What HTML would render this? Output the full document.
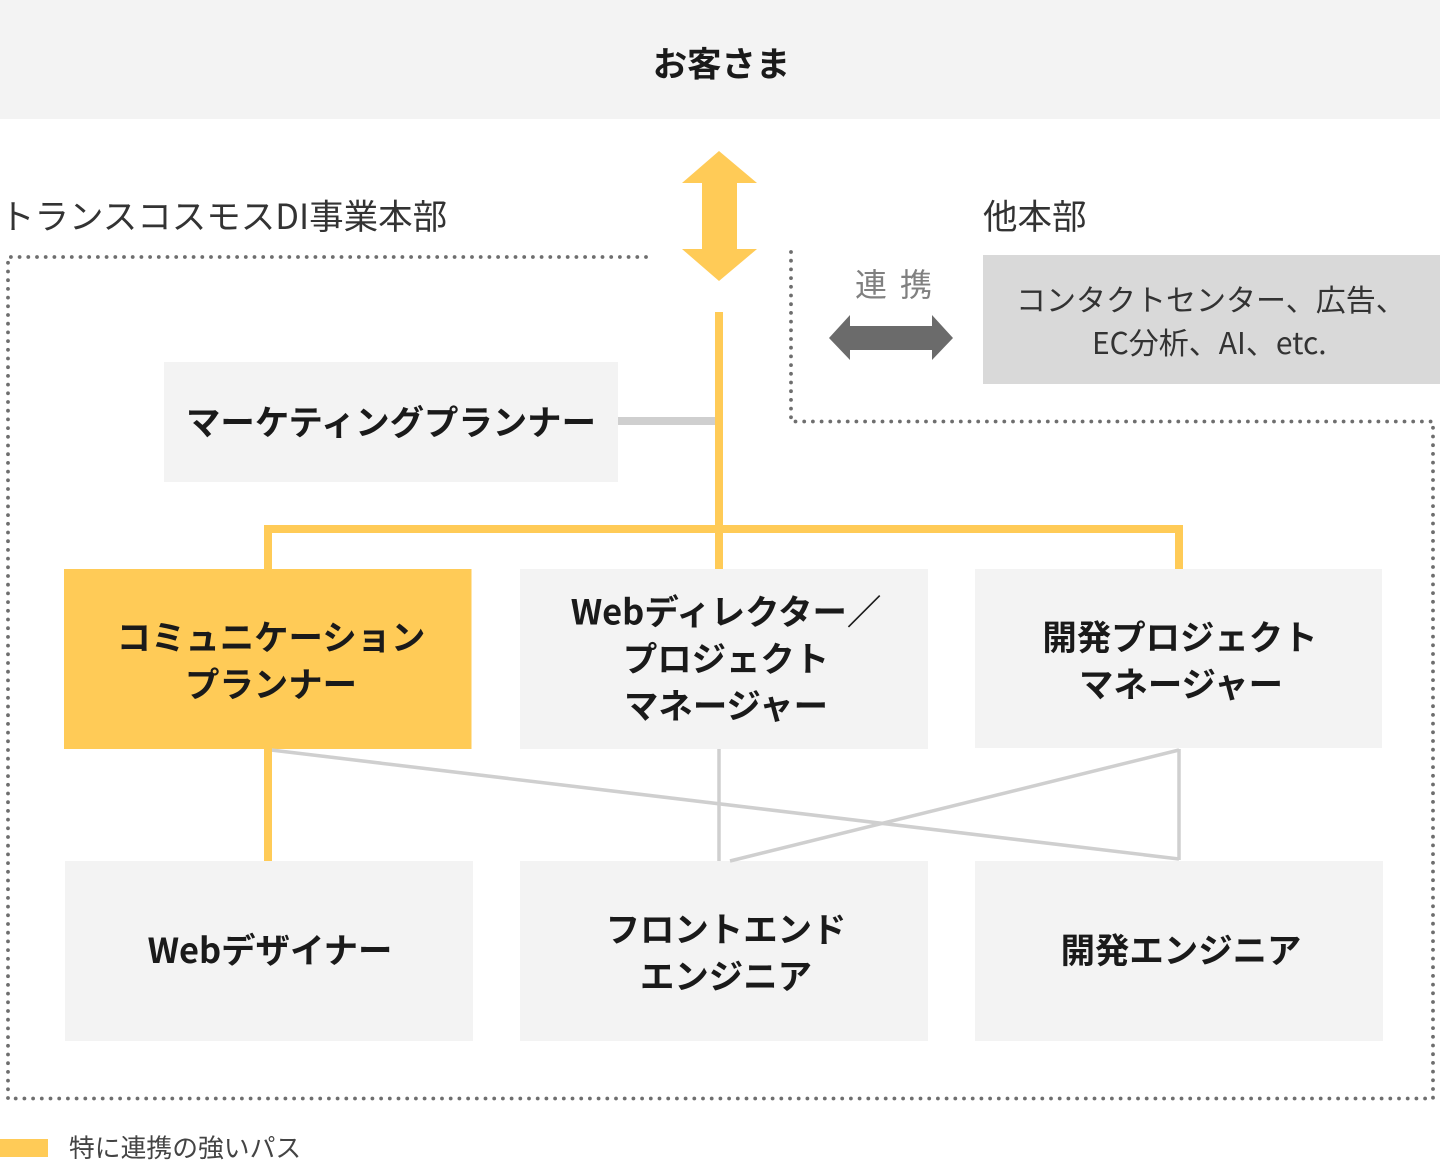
<!DOCTYPE html>
<html lang="ja">
<head>
<meta charset="utf-8">
<title>体制図</title>
<style>
html,body{margin:0;padding:0;background:#fff}
svg{display:block}
text{font-family:"Noto Sans CJK JP","Liberation Sans",sans-serif}
.b{font-weight:700;font-size:34.4px;fill:#1a1a1a;text-anchor:middle}
.r{font-weight:400;font-size:34.5px;fill:#333}
</style>
</head>
<body>
<svg width="1440" height="1160" viewBox="0 0 1440 1160" xmlns="http://www.w3.org/2000/svg">
<rect width="1440" height="1160" fill="#fff"/>
<rect x="0" y="0" width="1440" height="119" fill="#f3f3f3"/>
<rect x="164" y="362" width="454" height="120" fill="#f3f3f3"/>
<rect x="64" y="569" width="407.500" height="180" fill="#ffcb57"/>
<rect x="520" y="569" width="408" height="180" fill="#f3f3f3"/>
<rect x="975" y="569" width="407" height="179" fill="#f3f3f3"/>
<rect x="65" y="861" width="408" height="180" fill="#f3f3f3"/>
<rect x="520" y="861" width="408" height="180" fill="#f3f3f3"/>
<rect x="975" y="861" width="408" height="180" fill="#f3f3f3"/>
<rect x="983" y="255" width="457" height="129" fill="#d9d9d9"/>

<path d="M8 1098V257H648" fill="none" stroke="#6e6e6e" stroke-width="3.8" stroke-linecap="round" stroke-dasharray="0 8.7"/>
<path d="M791 252V421.500H1433V1098.500H8" fill="none" stroke="#6e6e6e" stroke-width="3.8" stroke-linecap="round" stroke-dasharray="0 8.7"/>

<g fill="none" stroke="#cfcfcf" stroke-width="3.5">
<path d="M271 750L1179 859"/>
<path d="M719 749V861"/>
<path d="M1179 749V860"/>
<path d="M1179 750L730 861"/>
</g>
<rect x="618" y="417" width="98" height="8" fill="#cfcfcf"/>
<g fill="#ffcb57">
<rect x="715" y="312" width="8" height="257"/>
<rect x="264" y="525" width="919" height="8"/>
<rect x="264" y="525" width="8" height="44"/>
<rect x="1175" y="525" width="8" height="44"/>
<rect x="264" y="748" width="8" height="113"/>
<path d="M719 151L757 183H737V249H757L719 281L682 249H702V183H682Z"/>
<rect x="0" y="1139" width="48" height="18"/>
</g>
<path d="M829 338L850 315V326H932V315L953 338L932 360V350H850V360Z" fill="#6b6b6b"/>

<text class="b" x="721.500" y="76.500">お客さま</text>
<text class="b" x="391" y="435">マーケティングプランナー</text>
<text class="b" x="271" y="650">コミュニケーション</text>
<text class="b" x="271" y="697">プランナー</text>
<text class="b" x="726" y="624.500">Webディレクター／</text>
<text class="b" x="726" y="671.500">プロジェクト</text>
<text class="b" x="726" y="718.500">マネージャー</text>
<text class="b" x="1180" y="650">開発プロジェクト</text>
<text class="b" x="1181" y="697">マネージャー</text>
<text class="b" x="270" y="963">Webデザイナー</text>
<text class="b" x="726" y="942">フロントエンド</text>
<text class="b" x="726" y="989">エンジニア</text>
<text class="b" x="1181" y="963">開発エンジニア</text>

<text class="r" x="0" y="229">トランスコスモスDI事業本部</text>
<text class="r" x="983" y="229">他本部</text>
<text x="855" y="296" font-size="32" fill="#808080" textLength="77" lengthAdjust="spacing">連 携</text>
<text x="1016" y="311" font-size="30" fill="#333">コンタクトセンター、広告、</text>
<text x="1092" y="354" font-size="30" fill="#333">EC分析、AI、etc.</text>
<text x="69" y="1157" font-size="25.800" fill="#444">特に連携の強いパス</text>
</svg>
</body>
</html>
